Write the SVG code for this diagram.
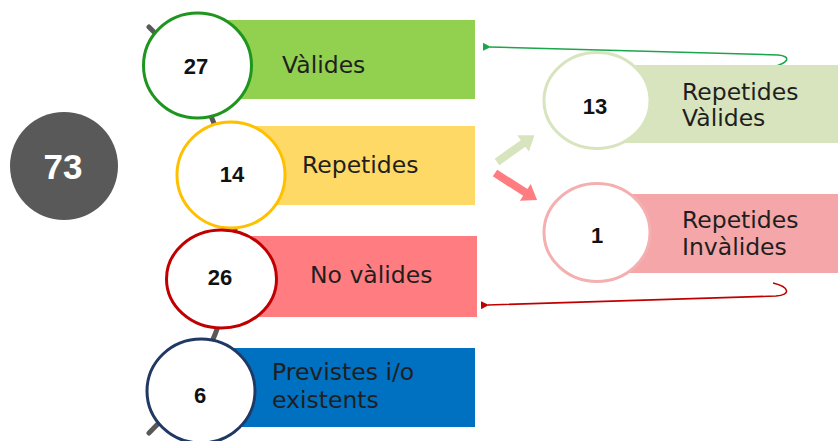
<svg xmlns="http://www.w3.org/2000/svg" width="838" height="441" viewBox="0 0 838 441">
<defs>
<style>
.lbl{font-family:"DejaVu Sans","Liberation Sans",sans-serif;font-size:23.5px;fill:#1f1f1f}
.num{font-family:"Liberation Sans",Arial,sans-serif;font-size:22px;font-weight:bold;fill:#111;text-anchor:middle}
.ring{fill:#fff;stroke-width:3}
</style>
<marker id="ahG" markerWidth="8" markerHeight="8" refX="1" refY="4" orient="auto-start-reverse" markerUnits="userSpaceOnUse"><path d="M8,0 L0,4 L8,8 z" fill="#1aa64a"/></marker>
<marker id="ahR" markerWidth="8" markerHeight="8" refX="1" refY="4" orient="auto-start-reverse" markerUnits="userSpaceOnUse"><path d="M8,0 L0,4 L8,8 z" fill="#c00000"/></marker>
</defs>
<rect width="838" height="441" fill="#fff"/>

<g id="total">
<circle cx="64" cy="166" r="54" fill="#595959"/>
<text x="63" y="179" font-family="Liberation Sans,Arial,sans-serif" font-size="35" font-weight="bold" fill="#fff" text-anchor="middle">73</text>
</g>

<g id="connectors">
<path d="M149,27 A282.5,282.5 0 0 1 149,433" fill="none" stroke="#595959" stroke-width="5" stroke-linecap="round"/>
<polygon points="0,-4 32,-4 32,-10 46,0 32,10 32,4 0,4" fill="#d7e4bd" transform="translate(497,162) rotate(-35.4)"/>
<polygon points="0,-4 36,-4 36,-10 50,0 36,10 36,4 0,4" fill="#ff7c80" transform="translate(495,173) rotate(32.7)"/>
<path d="M772,67 C790,63 791,56 778,55 L490,47" fill="none" stroke="#1aa64a" stroke-width="1.5" marker-end="url(#ahG)"/>
<path d="M773,283 C790,287 791,295 776,296 L488,305" fill="none" stroke="#c00000" stroke-width="1.5" marker-end="url(#ahR)"/>
</g>

<g id="valides">
<rect x="200" y="20" width="275" height="79" fill="#92d050"/>
<ellipse class="ring" cx="197.5" cy="65.5" rx="54" ry="52.5" stroke="#1e961e"/>
<text class="num" x="196" y="74">27</text>
<text class="lbl" x="282" y="73">Vàlides</text>
</g>

<g id="repetides">
<rect x="230" y="126" width="245" height="79" fill="#ffd966"/>
<ellipse class="ring" cx="231" cy="175" rx="54" ry="53" stroke="#ffc000"/>
<text class="num" x="232" y="182">14</text>
<text class="lbl" x="302" y="173">Repetides</text>
</g>

<g id="novalides">
<rect x="221" y="236" width="256" height="81" fill="#ff7c80"/>
<ellipse class="ring" cx="221.5" cy="279" rx="55" ry="49" stroke="#c00000"/>
<text class="num" x="220" y="285">26</text>
<text class="lbl" x="310" y="283">No vàlides</text>
</g>

<g id="previstes">
<rect x="201" y="348" width="274" height="79" fill="#0070c0"/>
<ellipse class="ring" cx="201" cy="391" rx="54" ry="52" stroke="#203864"/>
<text class="num" x="200" y="403">6</text>
<text class="lbl" x="272" y="380">Previstes i/o</text>
<text class="lbl" x="272" y="408">existents</text>
</g>

<g id="repetides-valides">
<rect x="597" y="65" width="241" height="78" fill="#d7e4bd"/>
<ellipse class="ring" cx="597" cy="100.5" rx="53" ry="48" stroke="#d7e4bd"/>
<text class="num" x="595" y="114">13</text>
<text class="lbl" x="682" y="100">Repetides</text>
<text class="lbl" x="682" y="126">Vàlides</text>
</g>

<g id="repetides-invalides">
<rect x="597" y="194" width="241" height="79" fill="#f4a6a8"/>
<ellipse class="ring" cx="597" cy="232.5" rx="53" ry="49" stroke="#f4b0b0"/>
<text class="num" x="597" y="243">1</text>
<text class="lbl" x="682" y="228">Repetides</text>
<text class="lbl" x="682" y="255">Invàlides</text>
</g>
</svg>
